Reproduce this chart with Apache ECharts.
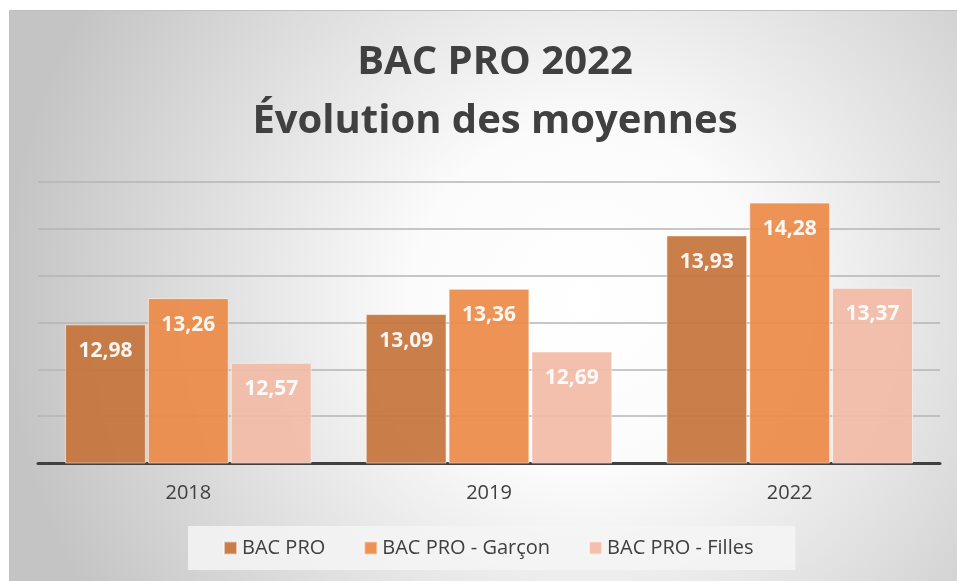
<!DOCTYPE html>
<html>
<head>
<meta charset="utf-8">
<script src="https://cdn.jsdelivr.net/npm/echarts@6/dist/echarts.min.js"></script>
<style>
  html, body { margin: 0; padding: 0; background: #ffffff; }
  #chart { width: 957px; height: 581px; }
</style>
</head>
<body>
<div id="chart"></div>
<script>
// données
var categories = ['2018', '2019', '2022'];
var bacPro = [12.98, 13.09, 13.93];
var bacProGarcon = [13.26, 13.36, 14.28];
var bacProFilles = [12.57, 12.69, 13.37];
var seriesNames = ['BAC PRO', 'BAC PRO - Garçon', 'BAC PRO - Filles'];

var colors = ['#c5743c', '#ec8a48', '#f1bba6'];
var textColor = '#404040';
var fontFamily = '"Open Sans", "DejaVu Sans", sans-serif';

var chart = echarts.init(document.getElementById('chart'));

function labelFmt(p) {
    return p.value.toFixed(2).replace('.', ',');
}

function makeSeries(name, data, color) {
    return {
        name: name,
        type: 'bar',
        data: data,
        barGap: '2.5%',
        barCategoryGap: '18%',
        itemStyle: {
            color: color,
            opacity: 0.92,
            borderColor: 'rgba(255,255,255,0.6)',
            borderWidth: 1
        },
        label: {
            show: true,
            position: 'insideTop',
            distance: 16,
            color: '#ffffff',
            fontSize: 21,
            fontWeight: 'bold',
            fontFamily: fontFamily,
            formatter: labelFmt
        }
    };
}

chart.setOption({
    animation: false,
    backgroundColor: '#ffffff',
    graphic: [{
        type: 'rect',
        z: -10,
        silent: true,
        shape: { x: 9.5, y: 10.5, width: 960, height: 580 },
        style: {
            fill: new echarts.graphic.RadialGradient(0.6, 0.5, 1.0, [
                { offset: 0, color: '#ffffff' },
                { offset: 0.3, color: '#fbfbfb' },
                { offset: 1, color: '#c4c4c4' }
            ]),
            stroke: '#c0c0c0',
            lineWidth: 1
        }
    }],
    title: {
        text: 'BAC PRO 2022\nÉvolution des moyennes',
        left: 490,
        textAlign: 'center',
        top: 28,
        textStyle: {
            color: textColor,
            fontSize: 40,
            fontWeight: 'bold',
            fontFamily: fontFamily,
            lineHeight: 59
        }
    },
    legend: {
        data: seriesNames,
        bottom: 11,
        left: 188,
        icon: 'rect',
        itemWidth: 13,
        itemHeight: 13,
        itemGap: 38,
        padding: [12, 42, 12, 35],
        backgroundColor: 'rgba(244,244,244,0.85)',
        textStyle: {
            color: textColor,
            fontSize: 20,
            fontFamily: fontFamily
        }
    },
    grid: {
        left: 38,
        right: 17,
        top: 182,
        bottom: 118
    },
    xAxis: {
        type: 'category',
        data: categories,
        axisTick: { show: false },
        axisLine: { lineStyle: { color: '#404040', width: 3 } },
        axisLabel: {
            color: textColor,
            fontSize: 20,
            fontFamily: fontFamily,
            margin: 20
        }
    },
    yAxis: {
        type: 'value',
        min: 11.5,
        max: 14.5,
        interval: 0.5,
        axisLabel: { show: false },
        axisLine: { show: false },
        axisTick: { show: false },
        splitLine: { lineStyle: { color: '#b4b4b4', width: 1.5 } }
    },
    series: [
        makeSeries(seriesNames[0], bacPro, colors[0]),
        makeSeries(seriesNames[1], bacProGarcon, colors[1]),
        makeSeries(seriesNames[2], bacProFilles, colors[2])
    ]
});
</script>
</body>
</html>
